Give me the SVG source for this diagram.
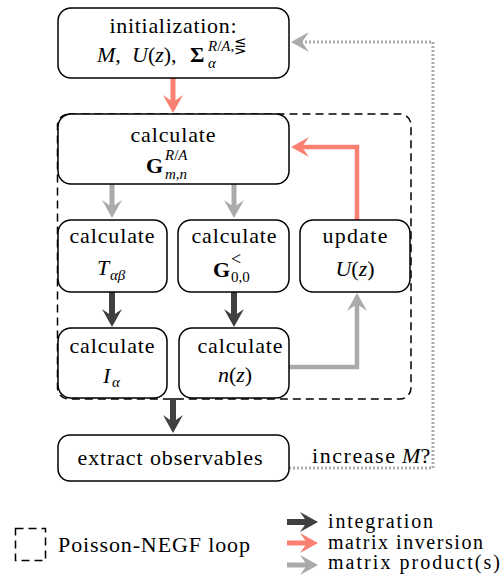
<svg xmlns="http://www.w3.org/2000/svg" width="501" height="576" viewBox="0 0 501 576">
<style>
.box{fill:#fff;stroke:#000;stroke-width:1.5}
.t{font-family:"Liberation Serif","DejaVu Serif",serif;font-size:22px;fill:#000}
.c{text-anchor:middle}
.i{font-style:italic}
.b{font-weight:bold}
.s{font-size:15px}
.lg{font-size:20px}
.dk{stroke:#404040;stroke-width:6;fill:none}
.or{stroke:#fa8072;stroke-width:5;fill:none}
.gr{stroke:#aaaaaa;stroke-width:5;fill:none}
</style>
<defs>
<marker id="hdk" markerUnits="userSpaceOnUse" markerWidth="20" markerHeight="22" viewBox="0 -11 20 22" refX="7" refY="0" orient="auto"><path d="M0,-10 L18,0 L0,10 L7,0 Z" fill="#404040"/></marker>
<marker id="hor" markerUnits="userSpaceOnUse" markerWidth="20" markerHeight="22" viewBox="0 -11 20 22" refX="7" refY="0" orient="auto"><path d="M0,-10 L18,0 L0,10 L7,0 Z" fill="#fa8072"/></marker>
<marker id="hgr" markerUnits="userSpaceOnUse" markerWidth="20" markerHeight="22" viewBox="0 -11 20 22" refX="7" refY="0" orient="auto"><path d="M0,-10 L18,0 L0,10 L7,0 Z" fill="#aaaaaa"/></marker>
</defs>

<rect id="loop" x="57.5" y="114" width="353.5" height="285" rx="11" fill="none" stroke="#000" stroke-width="1.5" stroke-dasharray="8 5"/>

<g id="connectors">
<line class="or" x1="173" y1="78" x2="173" y2="102" marker-end="url(#hor)"/>
<line class="gr" x1="112" y1="184" x2="112" y2="207" marker-end="url(#hgr)"/>
<line class="gr" x1="234" y1="184" x2="234" y2="207" marker-end="url(#hgr)"/>
<line class="dk" x1="112" y1="292" x2="112" y2="316" marker-end="url(#hdk)"/>
<line class="dk" x1="234" y1="292" x2="234" y2="316" marker-end="url(#hdk)"/>
<path class="or" style="stroke-width:4.5" d="M357,220 V147 H302" marker-end="url(#hor)"/>
<path class="gr" style="stroke-width:4.5" d="M289,367 H357 V304" marker-end="url(#hgr)"/>
<line class="dk" x1="173" y1="398" x2="173" y2="422" marker-end="url(#hdk)"/>
<path d="M289,468 H433 V42 H302" fill="none" stroke="#aaaaaa" stroke-width="3" stroke-dasharray="2 2" marker-end="url(#hgr)"/>
</g>

<g id="init">
<rect class="box" x="58" y="8" width="231" height="70" rx="13"/>
<text class="t c" x="173" y="33" textLength="127">initialization:</text>
<text class="t" x="97" y="62"><tspan class="i">M</tspan>,</text>
<text class="t" x="132" y="62"><tspan class="i">U</tspan>(<tspan class="i">z</tspan>),</text>
<text class="t b" x="190" y="62">Σ</text>
<text class="t s" x="208" y="51"><tspan class="i">R</tspan>/<tspan class="i">A</tspan>,⋚</text>
<text class="t s i" x="208" y="68">α</text>
</g>

<g id="calcG">
<rect class="box" x="58" y="114" width="231" height="70" rx="13"/>
<text class="t c" x="173" y="142" textLength="85">calculate</text>
<text class="t b" x="146" y="173">G</text>
<text class="t s i" x="165" y="160">R<tspan font-style="normal">/</tspan>A</text>
<text class="t s i" x="165" y="179">m<tspan font-style="normal">,</tspan>n</text>
</g>

<g id="calcT">
<rect class="box" x="58" y="220" width="109" height="72" rx="13"/>
<text class="t c" x="112" y="243" textLength="85">calculate</text>
<text class="t i" x="97" y="275">T</text>
<text class="t s i" x="110" y="280">αβ</text>
</g>

<g id="calcGless">
<rect class="box" x="178" y="220" width="111" height="72" rx="13"/>
<text class="t c" x="234" y="243" textLength="85">calculate</text>
<text class="t b" x="213" y="277">G</text>
<text class="t" style="font-size:18px" x="231" y="265">&lt;</text>
<text class="t s" x="231" y="282">0,0</text>
</g>

<g id="update">
<rect class="box" x="300" y="220" width="110" height="72" rx="13"/>
<text class="t c" x="355" y="243" textLength="65">update</text>
<text class="t c" x="355" y="276"><tspan class="i">U</tspan>(<tspan class="i">z</tspan>)</text>
</g>

<g id="calcI">
<rect class="box" x="58" y="328" width="109" height="70" rx="13"/>
<text class="t c" x="112" y="353" textLength="85">calculate</text>
<text class="t i" x="103" y="383">I</text>
<text class="t s i" x="112" y="387">α</text>
</g>

<g id="calcN">
<rect class="box" x="179" y="328" width="110" height="70" rx="13"/>
<text class="t c" x="240" y="353" textLength="85">calculate</text>
<text class="t c" x="235" y="382"><tspan class="i">n</tspan>(<tspan class="i">z</tspan>)</text>
</g>

<g id="extract">
<rect class="box" x="58" y="435" width="231" height="46" rx="12"/>
<text class="t c" x="170" y="465" textLength="185">extract observables</text>
</g>

<text class="t" x="312" y="463"><tspan textLength="83">increase</tspan> <tspan class="i">M</tspan>?</text>

<g id="legend">
<rect x="15.5" y="528.5" width="30" height="32" fill="none" stroke="#000" stroke-width="1.5" stroke-dasharray="8 5"/>
<text class="t" x="58" y="552" textLength="192">Poisson-NEGF loop</text>
<line class="dk" x1="287" y1="522" x2="307" y2="522" marker-end="url(#hdk)"/>
<line class="or" x1="287" y1="543" x2="307" y2="543" marker-end="url(#hor)"/>
<line class="gr" x1="287" y1="565" x2="307" y2="565" marker-end="url(#hgr)"/>
<text class="t lg" x="328" y="528" textLength="105">integration</text>
<text class="t lg" x="328" y="549" textLength="155">matrix inversion</text>
<text class="t lg" x="328" y="569" textLength="172">matrix product(s)</text>
</g>
</svg>
